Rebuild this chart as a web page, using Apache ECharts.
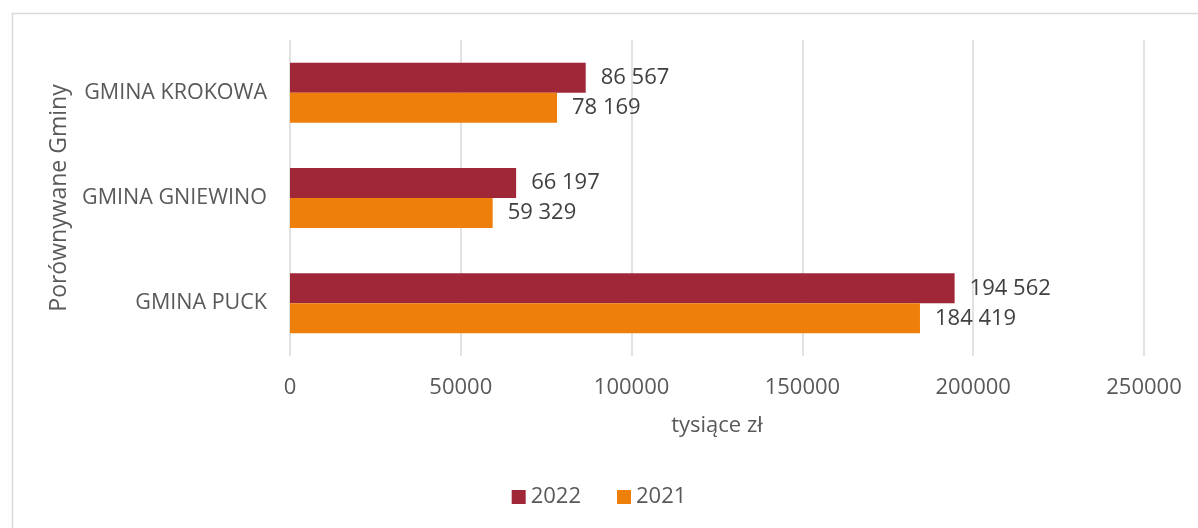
<!DOCTYPE html>
<html>
<head>
<meta charset="utf-8">
<script src="https://cdn.jsdelivr.net/npm/echarts@6/dist/echarts.min.js"></script>
<style>
html,body{margin:0;padding:0;background:#fff;}
#chart{width:1198px;height:528px;}
</style>
</head>
<body>
<div id="chart"></div>
<script>
const categories = ['GMINA PUCK', 'GMINA GNIEWINO', 'GMINA KROKOWA'];
const values2022 = [194562, 66197, 86567];
const values2021 = [184419, 59329, 78169];
const seriesNames = ['2022', '2021'];
const xTicks = { min: 0, max: 250000, interval: 50000 };

const FONT = '"Open Sans", "Noto Sans", sans-serif';
const fmt = v => String(v).replace(/\B(?=(\d{3})+(?!\d))/g, ' ');

const chart = echarts.init(document.getElementById('chart'), null, { renderer: 'canvas' });
const labelStyle = {
  show: true, position: 'right', distance: 15,
  color: '#404040', fontSize: 22, fontFamily: FONT,
  formatter: p => fmt(p.value)
};
chart.setOption({
  animation: false,
  backgroundColor: '#fff',
  textStyle: { fontFamily: FONT },
  graphic: [{
    type: 'rect', left: 10, top: 11,
    shape: { width: 1300, height: 600 },
    style: { fill: 'none', stroke: '#d9d9d9', lineWidth: 1.5 },
    silent: true
  }],
  grid: { left: 290, right: 54, top: 40, bottom: 172, containLabel: false },
  xAxis: {
    type: 'value', min: xTicks.min, max: xTicks.max, interval: xTicks.interval,
    name: 'tysiące zł', nameLocation: 'middle', nameGap: 59,
    nameTextStyle: { fontSize: 22, color: '#595959', fontFamily: FONT },
    axisLine: { show: false }, axisTick: { show: false },
    axisLabel: { color: '#595959', fontSize: 22, margin: 21, fontFamily: FONT,
                 formatter: v => String(v) },
    splitLine: { show: true, lineStyle: { color: '#d9d9d9', width: 1.5 } }
  },
  yAxis: {
    type: 'category', data: categories,
    name: 'Porównywane Gminy', nameLocation: 'middle', nameGap: 218, nameRotate: 90,
    nameTextStyle: { fontSize: 23, color: '#595959', fontFamily: FONT },
    axisLine: { show: false }, axisTick: { show: false },
    axisLabel: { color: '#595959', fontSize: 21.5, margin: 23, fontFamily: FONT }
  },
  legend: {
    bottom: 15, left: 'center',
    itemWidth: 14, itemHeight: 14, itemGap: 36,
    icon: 'rect',
    textStyle: { color: '#595959', fontSize: 22, fontFamily: FONT },
    data: seriesNames
  },
  series: [
    { name: seriesNames[0], type: 'bar', data: values2022, barGap: '0%', barCategoryGap: '43%',
      itemStyle: { color: '#A02738' }, label: labelStyle },
    { name: seriesNames[1], type: 'bar', data: values2021, barGap: '0%', barCategoryGap: '43%',
      itemStyle: { color: '#EF7F0B' }, label: labelStyle }
  ]
});
</script>
</body>
</html>
